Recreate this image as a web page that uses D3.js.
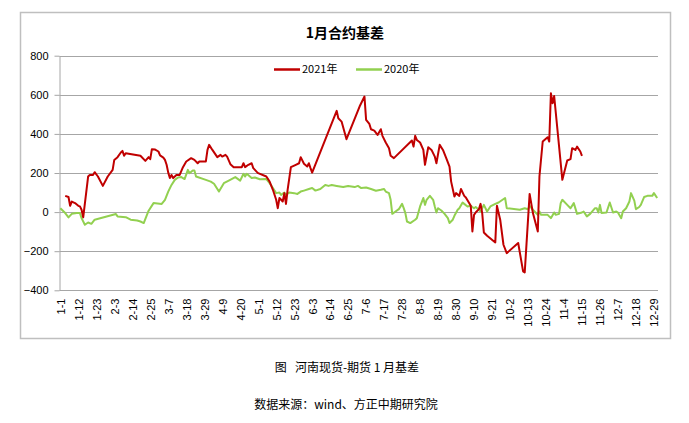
<!DOCTYPE html>
<html>
<head>
<meta charset="utf-8">
<style>
  body { margin: 0; background: #fff; }
  svg { display: block; }
  text { font-family: "Liberation Sans", Arial, sans-serif; }
  .cjk { font-family: "Noto Sans CJK SC", sans-serif; }
</style>
</head>
<body>
<svg width="689" height="423"></svg>
<script src="https://d3js.org/d3.v7.min.js"></script>
<script>
// 2021 basis (red), month by month
var redDates = [
  "1-4","1-6","1-7","1-8","1-10","1-12","1-13","1-14","1-15","1-18","1-19","1-21","1-22","1-24","1-27","1-30",
  "2-2","2-3","2-5","2-7","2-8","2-9","2-10","2-19","2-22","2-24","2-25","2-26","2-28",
  "3-1","3-2","3-4","3-5","3-6","3-7","3-8","3-9","3-10","3-12","3-14","3-16","3-18","3-21","3-23","3-25","3-26","3-30","3-31",
  "4-1","4-3","4-6","4-8","4-9","4-11","4-12","4-14","4-16","4-21","4-22","4-23","4-25","4-27","4-28","4-30",
  "5-1","5-6","5-8","5-10","5-12","5-13","5-14","5-16","5-17","5-18","5-19","5-21","5-24","5-26","5-27","5-29","5-31",
  "6-1","6-2","6-3","6-18","6-19","6-21","6-24",
  "7-2","7-5","7-6","7-8","7-9","7-11","7-13","7-15","7-16","7-18","7-20","7-21","7-23",
  "8-3","8-4","8-5","8-6","8-8","8-10","8-11","8-13","8-15","8-17","8-18","8-20","8-22","8-24","8-26","8-27","8-29","8-30",
  "9-1","9-2","9-4","9-5","9-7","9-8","9-9","9-10","9-11","9-13","9-14","9-15","9-16","9-18","9-23","9-24","9-26","9-28","9-30",
  "10-7","10-10","10-11","10-14","10-16","10-19","10-20","10-22","10-25","10-26","10-27","10-28","10-29",
  "11-3","11-6","11-8","11-9","11-11","11-12","11-14","11-15"
];
var redValues = [
  83,77,32,54,46,32,29,12,-27,182,190,190,204,182,134,182,
  216,267,281,305,313,288,301,288,262,281,271,322,320,
  310,290,279,267,242,202,174,190,174,190,190,230,259,276,267,250,259,259,318,
  344,318,281,293,284,293,284,245,230,230,250,230,242,250,225,207,
  199,182,156,114,63,20,72,54,97,42,114,230,242,250,281,247,233,
  250,225,202,518,480,463,373,
  540,591,472,451,424,417,395,424,390,356,327,288,276,
  366,335,390,369,356,318,242,332,318,284,250,344,318,276,233,156,80,97,
  83,118,83,75,46,32,-99,-14,-2,15,42,-5,-104,-121,-155,32,-39,-167,-210,
  -158,-303,-309,93,-5,-99,182,361,383,361,608,557,594,
  165,264,271,327,318,335,310,288
];

// 2020 basis (green)
var greenDates = [
  "1-1","1-4","1-6","1-8","1-11","1-13","1-14","1-16","1-18","1-20","1-22",
  "2-4","2-5","2-10","2-13","2-17","2-19","2-21","2-24","2-27",
  "3-3","3-5","3-7","3-9","3-11","3-13","3-15","3-17","3-19","3-20","3-22","3-23","3-24","3-30",
  "4-2","4-4","4-7","4-10","4-13","4-17","4-20","4-22","4-23","4-24","4-27","4-29",
  "5-2","5-6","5-8","5-10","5-12","5-14","5-15","5-17","5-18","5-20","5-23","5-25","5-27","5-29",
  "6-1","6-3","6-5","6-8","6-11","6-13","6-15","6-18","6-22","6-25","6-29",
  "7-1","7-3","7-6","7-9","7-12","7-15","7-17","7-18","7-20","7-21","7-22","7-24","7-26","7-28","7-29","7-30","7-31",
  "8-2","8-5","8-6","8-8","8-10","8-11","8-12","8-14","8-16","8-17","8-18","8-19","8-21","8-23","8-25","8-26","8-28","8-29","8-31",
  "9-1","9-3","9-4","9-6","9-8","9-10","9-11","9-13","9-14","9-16","9-18","9-20","9-23","9-25","9-29","9-30",
  "10-8","10-11","10-13","10-14","10-16","10-19","10-20","10-21","10-25","10-27","10-29","10-30",
  "11-1","11-2","11-3","11-6","11-8","11-10","11-12","11-15","11-16","11-18","11-20","11-23","11-24","11-25","11-26","11-27","11-30",
  "12-2","12-4","12-6","12-7","12-9","12-10","12-12","12-14","12-15","12-17","12-18","12-20","12-21","12-23","12-25","12-28","12-29","12-31"
];
var greenValues = [
  20,-5,-27,-9,-5,-5,-31,-65,-53,-60,-39,
  -10,-22,-26,-39,-43,-48,-56,7,46,
  42,63,105,139,165,177,179,169,216,199,213,213,182,165,
  156,145,105,148,161,179,161,196,182,196,174,177,
  168,169,148,123,97,100,88,100,88,100,97,93,105,110,
  118,123,110,118,139,134,139,134,128,134,128,
  134,123,126,118,109,114,118,105,97,63,-9,3,15,42,20,-5,-48,
  -56,-39,-31,29,72,37,63,83,63,29,-2,20,8,-9,-31,-56,-39,-19,12,
  20,49,42,29,32,20,26,12,3,37,3,29,42,49,72,20,
  12,20,15,32,12,-14,3,-14,-14,-31,-2,-14,
  -9,46,63,37,20,46,-9,-2,3,-22,-9,20,20,-2,37,-5,-2,
  49,-2,3,-2,-31,3,20,54,97,59,15,26,37,77,83,83,97,72
];

var yTicks = [-400, -200, 0, 200, 400, 600, 800];
var xTickLabels = ["1-1","1-12","1-23","2-3","2-14","2-25","3-7","3-18","3-29","4-9","4-20","5-1",
  "5-12","5-23","6-3","6-14","6-25","7-6","7-17","7-28","8-8","8-19","8-30","9-10","9-21",
  "10-2","10-13","10-24","11-4","11-15","11-26","12-7","12-18","12-29"];
var seriesNames = ["2021年", "2020年"];
var seriesColors = ["#C00000", "#92D050"];

var svg = d3.select("svg");

// every calendar day of a leap year is one category
var fmt = d3.timeFormat("%-m-%-d");
var days = d3.timeDay.range(new Date(2020, 0, 1), new Date(2021, 0, 1)).map(fmt);

var x = d3.scalePoint().domain(days).range([59.5, 658]).padding(0.5);
var y = d3.scaleLinear().domain([-400, 800]).range([290.3, 55.7]);

// outer frame
svg.append("rect")
    .attr("x", 20.5).attr("y", 12.5)
    .attr("width", 650).attr("height", 326)
    .attr("fill", "#fff")
    .attr("stroke", "#bfbfbf")
    .attr("stroke-width", 1.5);

svg.append("text")
    .attr("class", "cjk")
    .attr("x", 345).attr("y", 38)
    .attr("text-anchor", "middle")
    .attr("font-size", 14).attr("font-weight", "bold")
    .text("1月合约基差");

// gridlines
svg.append("g")
  .selectAll("line")
  .data(yTicks)
  .enter().append("line")
    .attr("x1", 59.5).attr("x2", 658)
    .attr("y1", function(d) { return Math.round(y(d)) + 0.5; })
    .attr("y2", function(d) { return Math.round(y(d)) + 0.5; })
    .attr("stroke", "#a6a6a6");

// y axis
var yAxis = svg.append("g")
    .attr("transform", "translate(59.5,0)")
    .call(d3.axisLeft(y).tickValues(yTicks).tickSizeInner(5).tickSizeOuter(0).tickPadding(6));
yAxis.select(".domain").attr("stroke", "#a6a6a6");
yAxis.selectAll("line").attr("stroke", "#a6a6a6");
yAxis.selectAll("text")
    .attr("font-family", "Liberation Sans, Arial, sans-serif")
    .attr("font-size", 11).attr("fill", "#000");

// x axis labels, rotated
var xAxis = svg.append("g")
    .attr("transform", "translate(0,290.5)")
    .call(d3.axisBottom(x).tickValues(xTickLabels).tickSize(0));
xAxis.select(".domain").remove();
xAxis.selectAll("text")
    .attr("font-family", "Liberation Sans, Arial, sans-serif")
    .attr("font-size", 11).attr("fill", "#000")
    .attr("transform", "rotate(-90)")
    .attr("text-anchor", "end")
    .attr("x", -8).attr("y", 0).attr("dy", "0.35em");

var line = d3.line()
    .x(function(d) { return x(d[0]); })
    .y(function(d) { return y(d[1]); });

var greenData = d3.zip(greenDates, greenValues);
var redData = d3.zip(redDates, redValues);

svg.append("path")
    .datum(greenData)
    .attr("fill", "none")
    .attr("stroke", seriesColors[1])
    .attr("stroke-width", 2)
    .attr("stroke-linejoin", "round")
    .attr("d", line);

svg.append("path")
    .datum(redData)
    .attr("fill", "none")
    .attr("stroke", seriesColors[0])
    .attr("stroke-width", 2)
    .attr("stroke-linejoin", "round")
    .attr("d", line);

// legend
var legendX = [274, 356];
var leg = svg.append("g").selectAll("g")
  .data(seriesNames)
  .enter().append("g")
    .attr("transform", function(d, i) { return "translate(" + legendX[i] + ",69.5)"; });
leg.append("line")
    .attr("x1", 0).attr("x2", 26)
    .attr("stroke", function(d, i) { return seriesColors[i]; })
    .attr("stroke-width", 2.5);
leg.append("text")
    .attr("class", "cjk")
    .attr("x", 28).attr("dy", "0.35em")
    .attr("font-size", 11)
    .text(function(d) { return d; });

// captions under the chart
svg.append("text")
    .attr("class", "cjk")
    .attr("x", 347).attr("y", 372)
    .attr("text-anchor", "middle")
    .attr("font-size", 12)
    .attr("xml:space", "preserve")
    .text("图   河南现货-期货 1 月基差");

svg.append("text")
    .attr("class", "cjk")
    .attr("x", 346).attr("y", 409)
    .attr("text-anchor", "middle")
    .attr("font-size", 12)
    .text("数据来源：wind、方正中期研究院");
</script>
</body>
</html>
